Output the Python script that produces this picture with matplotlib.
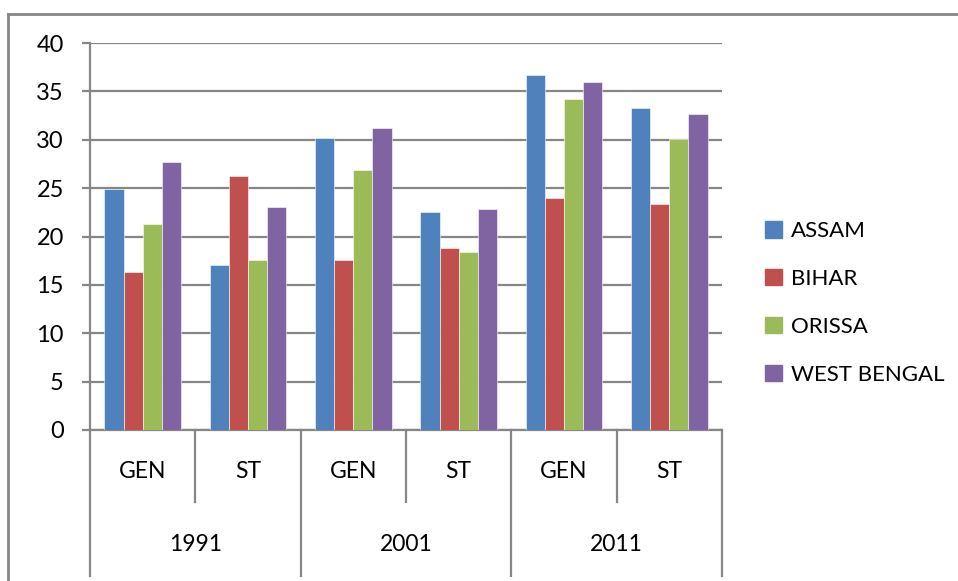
import matplotlib.pyplot as plt
import numpy as np
from matplotlib.lines import Line2D
from matplotlib.patches import Patch

plt.rcParams['font.family'] = ['Lato', 'DejaVu Sans']

years = ['1991', '2001', '2011']
groups = ['GEN', 'ST']
states = ['ASSAM', 'BIHAR', 'ORISSA', 'WEST BENGAL']
colors = ['#4F81BD', '#C0504D', '#9BBB59', '#8064A2']

# order: 1991 GEN, 1991 ST, 2001 GEN, 2001 ST, 2011 GEN, 2011 ST
assam = [24.9, 17.1, 30.2, 22.5, 36.7, 33.3]
bihar = [16.3, 26.3, 17.6, 18.8, 24.0, 23.4]
orissa = [21.3, 17.6, 26.9, 18.4, 34.2, 30.1]
west_bengal = [27.7, 23.0, 31.2, 22.8, 36.0, 32.7]
series = [assam, bihar, orissa, west_bengal]

W, H = 958, 581
fig = plt.figure(figsize=(W / 100, H / 100), dpi=100)
ax = fig.add_axes([90 / W, 151 / H, (722 - 90) / W, (430 - 43) / H])

grey = '#868686'
n = len(assam)
x = np.arange(n)
bw = 1 / 5.5  # gap width 150%
for i, (vals, c) in enumerate(zip(series, colors)):
    ax.bar(x + (i - 1.5) * bw, vals, width=bw, color=c, label=states[i],
           edgecolor='white', linewidth=0.4, zorder=3)

ax.set_xlim(-0.5, n - 0.5)
ax.set_ylim(0, 40)
ax.set_yticks(range(0, 41, 5))
ax.yaxis.grid(True, color=grey, linewidth=1.6, zorder=0)
ax.tick_params(axis='y', length=5.8, width=1.6, color=grey, labelsize=17,
               pad=13, labelcolor='black')
ax.set_xticks([])
for s in ['top', 'right']:
    ax.spines[s].set_visible(False)
for s in ['left', 'bottom']:
    ax.spines[s].set_color(grey)
    ax.spines[s].set_linewidth(1.6)

# two-level category axis
tr = ax.get_xaxis_transform()
for k in range(n + 1):
    xb = k - 0.5
    y_end = -0.377 if k % 2 == 0 else -0.186
    ax.plot([xb, xb], [0, y_end], color=grey, linewidth=1.6,
            transform=tr, clip_on=False)
for k in range(n):
    ax.text(k, -0.108, groups[k % 2], transform=tr, ha='center', va='center',
            fontsize=16.5, color='black')
for j, yr in enumerate(years):
    ax.text(2 * j + 0.5, -0.297, yr, transform=tr, ha='center', va='center',
            fontsize=16.5, color='black')

# outer chart border
fig.add_artist(Line2D([8 / W, 8 / W], [0, 1 - 14 / H], color=grey,
                      linewidth=2, transform=fig.transFigure))
fig.add_artist(Line2D([8 / W, 1], [1 - 14 / H, 1 - 14 / H], color=grey,
                      linewidth=2, transform=fig.transFigure))

handles = [Patch(color=c, label=s) for s, c in zip(states, colors)]
fig.legend(handles=handles, loc='center left',
           bbox_to_anchor=(745 / W, 1 - 303 / H), frameon=False,
           fontsize=16, handlelength=0.75, handleheight=0.75,
           handletextpad=0.4, labelspacing=1.25)

fig.savefig('out.png', dpi=100)
